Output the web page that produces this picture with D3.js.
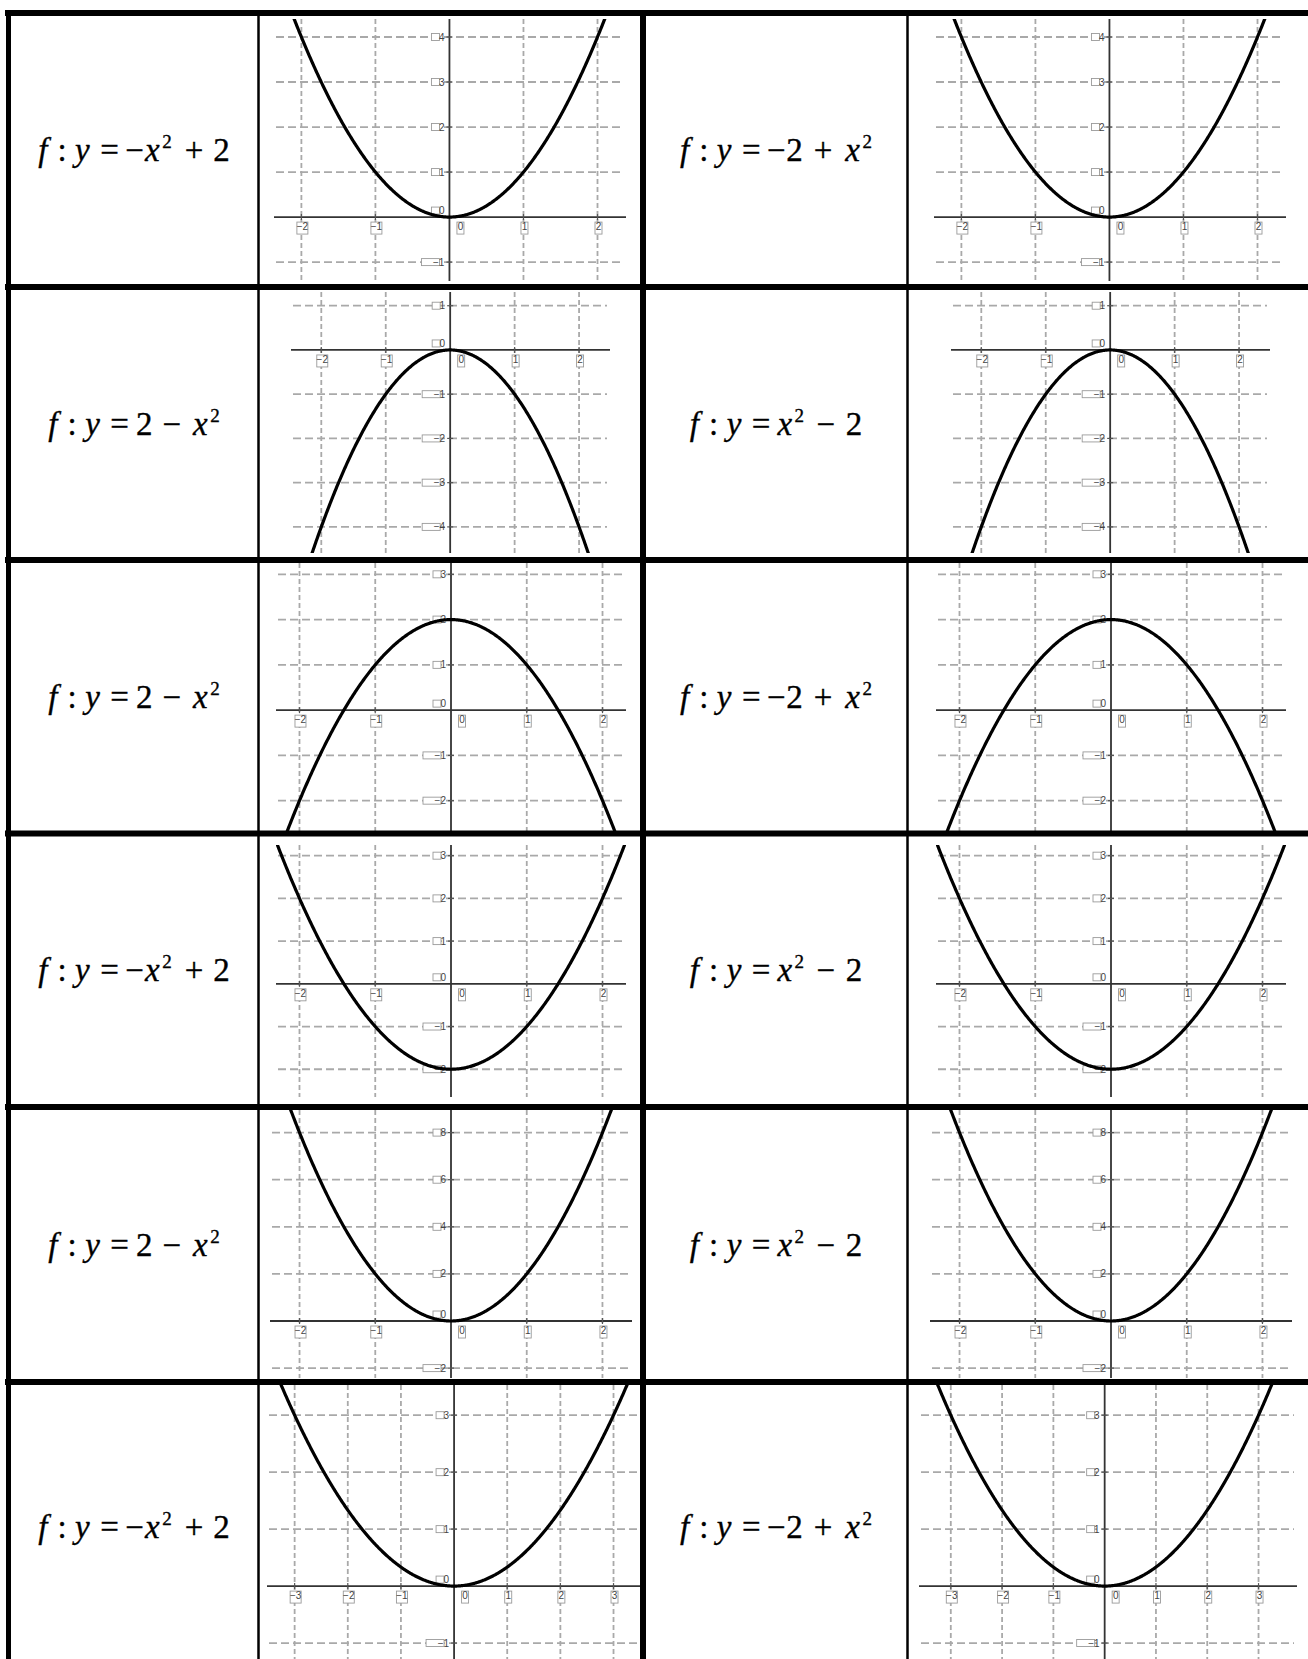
<!DOCTYPE html>
<html>
<head>
<meta charset="utf-8">
<script src="https://cdn.jsdelivr.net/npm/d3@7"></script>
<style>
  body { margin: 0; background: #fff; }
  svg { display: block; }
</style>
</head>
<body>
<div id="chart"></div>
<script>
// page size
const svgWidth = 1308;
const svgHeight = 1659;

// formula kinds used in the text columns (left column, right column)
const formulasLeft = ["A", "C", "C", "A", "C", "A"];
const formulasRight = ["B", "D", "B", "D", "D", "B"];

// tokens of each formula: [text, style] i = italic, r = roman, s = superscript
const formulaTokens = {
  A: [["f", "i"], [":", "r"], ["y", "i"], ["=", "r"], ["\u2212", "r"], ["x", "i"], ["2", "s"], ["+", "r"], ["2", "r"]],
  B: [["f", "i"], [":", "r"], ["y", "i"], ["=", "r"], ["\u2212", "r"], ["2", "r"], ["+", "r"], ["x", "i"], ["2", "s"]],
  C: [["f", "i"], [":", "r"], ["y", "i"], ["=", "r"], ["2", "r"], ["\u2212", "r"], ["x", "i"], ["2", "s"]],
  D: [["f", "i"], [":", "r"], ["y", "i"], ["=", "r"], ["x", "i"], ["2", "s"], ["\u2212", "r"], ["2", "r"]]
};

// curve drawn in each row: y = a*x^2 + c (same curve in both graph columns)
const curveA = [1, -1, -1, 1, 2, 1 / 3];
const curveC = [0, 0, 2, -2, 0, 0];

// grid / tick values per row
const xTicks = [
  [-2, -1, 0, 1, 2], [-2, -1, 0, 1, 2], [-2, -1, 0, 1, 2],
  [-2, -1, 0, 1, 2], [-2, -1, 0, 1, 2], [-3, -2, -1, 0, 1, 2, 3]
];
const yTicks = [
  [-1, 0, 1, 2, 3, 4], [-4, -3, -2, -1, 0, 1], [-2, -1, 0, 1, 2, 3],
  [-2, -1, 0, 1, 2, 3], [-2, 0, 2, 4, 6, 8], [-1, 0, 1, 2, 3]
];

// visible window of each graph (value domain), left and right graph columns
const xWindowL = [[-2.37, 2.385], [-2.47, 2.48], [-2.31, 2.31], [-2.31, 2.31], [-2.39, 2.39], [-3.52, 3.63]];
const xWindowR = [[-2.37, 2.385], [-2.47, 2.48], [-2.31, 2.31], [-2.31, 2.31], [-2.39, 2.39], [-3.62, 3.75]];
const yWindow = [[-1.42, 4.4], [-4.59, 1.31], [-2.67, 3.25], [-2.65, 3.25], [-2.42, 8.96], [-1.28, 3.53]];

// ---- layout (pixels) ----
const rowTop = [16, 290, 563, 836, 1110, 1385];
const rowBottom = [284, 557, 831, 1104, 1379, 1668];
const hBorders = [13, 287, 560, 833.5, 1107, 1382];
// graph box of each graph column
const graphPxL = [[274, 626], [291, 610], [276, 626], [276, 626], [270, 632], [267, 647]];
const graphPxR = [[934, 1286], [951, 1270], [936, 1286], [936, 1286], [930, 1292], [919, 1297]];
const graphPy = [[19, 281], [292, 553], [563, 831], [845, 1097], [1110, 1378], [1385, 1659]];
const textCenter = [134, 776];
// spacing between consecutive formula tokens (px)
const tokenGap = {
  A: [10, 8.5, 10.5, 6.5, 1, 2.5, 13, 10],
  B: [10, 8.5, 10.5, 6.5, 0.5, 11, 13, 2.5],
  C: [10, 8.5, 10.5, 7, 10, 12, 2.5],
  D: [10, 8.5, 10.5, 7, 2.5, 12.5, 10.5]
};

var svg = d3.select("#chart")
  .append("svg")
  .attr("width", svgWidth)
  .attr("height", svgHeight);

var defs = svg.append("defs");

// cell clip areas for the two graph columns
const graphCellX = [[260, 640], [909, 1308]];

function fmt(v) {
  return v < 0 ? "\u2212" + Math.abs(v) : String(v);
}

function drawGraph(row, col) {
  var px = col === 0 ? graphPxL[row] : graphPxR[row];
  var xw = col === 0 ? xWindowL[row] : xWindowR[row];
  var py = graphPy[row];

  var x = d3.scaleLinear().domain(xw).range(px);
  var y = d3.scaleLinear().domain(yWindow[row]).range([py[1], py[0]]);

  var clipId = `clip-${row}-${col}`;
  defs.append("clipPath").attr("id", clipId)
    .append("rect")
    .attr("x", graphCellX[col][0])
    .attr("y", rowTop[row])
    .attr("width", graphCellX[col][1] - graphCellX[col][0])
    .attr("height", rowBottom[row] - rowTop[row]);

  var g = svg.append("g").attr("clip-path", `url(#${clipId})`);

  // dashed grid
  g.selectAll(".vgrid")
    .data(xTicks[row].filter(d => d !== 0))
    .enter().append("line")
    .attr("x1", d => x(d)).attr("x2", d => x(d))
    .attr("y1", py[0]).attr("y2", py[1])
    .attr("stroke", "#a9a9a9")
    .attr("stroke-width", 1.8)
    .attr("stroke-dasharray", "5,3");

  g.selectAll(".hgrid")
    .data(yTicks[row].filter(d => d !== 0))
    .enter().append("line")
    .attr("x1", px[0] + 2).attr("x2", px[1] - 3)
    .attr("y1", d => y(d)).attr("y2", d => y(d))
    .attr("stroke", "#a9a9a9")
    .attr("stroke-width", 1.8)
    .attr("stroke-dasharray", "8,4");

  // axes
  g.append("line")
    .attr("x1", px[0]).attr("x2", px[1])
    .attr("y1", y(0)).attr("y2", y(0))
    .attr("stroke", "#333").attr("stroke-width", 1.8);
  g.append("line")
    .attr("x1", x(0)).attr("x2", x(0))
    .attr("y1", py[0]).attr("y2", py[1])
    .attr("stroke", "#333").attr("stroke-width", 1.8);

  // tick marks
  g.selectAll(".xtick")
    .data(xTicks[row].filter(d => d !== 0))
    .enter().append("line")
    .attr("x1", d => x(d)).attr("x2", d => x(d))
    .attr("y1", y(0) - 3).attr("y2", y(0) + 3)
    .attr("stroke", "#555").attr("stroke-width", 1.2);
  g.selectAll(".ytick")
    .data(yTicks[row].filter(d => d !== 0))
    .enter().append("line")
    .attr("x1", x(0) - 3).attr("x2", x(0) + 3)
    .attr("y1", d => y(d)).attr("y2", d => y(d))
    .attr("stroke", "#555").attr("stroke-width", 1.2);

  // x labels (boxed, GeoGebra style)
  xTicks[row].forEach(function(v) {
    var cx = v === 0 ? x(0) + 11 : x(v) + 1;
    var bw = v < 0 ? 11 : 7;
    g.append("rect")
      .attr("x", cx - bw / 2).attr("y", y(0) + 5)
      .attr("width", bw).attr("height", 12)
      .attr("fill", "#fff").attr("stroke", "#9a9a9a").attr("stroke-width", 0.9);
    g.append("text")
      .attr("x", cx).attr("y", y(0) + 13)
      .attr("text-anchor", "middle")
      .attr("font-family", "Liberation Sans, Arial, sans-serif")
      .attr("font-size", 10)
      .attr("fill", "#444")
      .text(fmt(v));
  });

  // y labels
  yTicks[row].forEach(function(v) {
    var ty = v === 0 ? y(0) - 3 : y(v) + 3.5;
    var right = x(0) - 5;
    var bw = v < 0 ? 18 : 8;
    g.append("rect")
      .attr("x", right - 5 - bw).attr("y", ty - 7)
      .attr("width", bw).attr("height", 7)
      .attr("fill", "#fff").attr("stroke", "#9a9a9a").attr("stroke-width", 0.9);
    g.append("text")
      .attr("x", right).attr("y", ty)
      .attr("text-anchor", "end")
      .attr("font-family", "Liberation Sans, Arial, sans-serif")
      .attr("font-size", 10)
      .attr("fill", "#444")
      .text(fmt(v));
  });

  // the parabola
  var vClip = `vclip-${row}-${col}`;
  defs.append("clipPath").attr("id", vClip)
    .append("rect")
    .attr("x", px[0]).attr("y", py[0])
    .attr("width", px[1] - px[0]).attr("height", py[1] - py[0]);

  var xs = d3.range(xw[0], xw[1] + 0.01, 0.01);
  var line = d3.line()
    .x(d => x(d))
    .y(d => y(curveA[row] * d * d + curveC[row]));
  g.append("g").attr("clip-path", `url(#${vClip})`)
    .append("path")
    .datum(xs)
    .attr("d", line)
    .attr("fill", "none")
    .attr("stroke", "#000")
    .attr("stroke-width", 3.2);
}

// formula: each token is its own text, placed one after the other
function drawFormula(row, col, kind) {
  var baseY = (rowTop[row] + rowBottom[row]) / 2 + 11;
  var g = svg.append("g");
  var cursor = 0;
  formulaTokens[kind].forEach(function(tok, i) {
    var sup = tok[1] === "s";
    if (i > 0) cursor += tokenGap[kind][i - 1];
    var t = g.append("text")
      .attr("x", cursor)
      .attr("y", sup ? -13 : 0)
      .attr("font-family", "Liberation Serif, 'Times New Roman', serif")
      .attr("font-size", sup ? 19 : 33)
      .attr("font-style", tok[1] === "i" ? "italic" : "normal")
      .attr("fill", "#000")
      .attr("stroke", "#000")
      .attr("stroke-width", 0.35)
      .text(tok[0]);
    cursor += t.node().getComputedTextLength();
  });
  var bb = g.node().getBBox();
  g.attr("transform", `translate(${textCenter[col] - (bb.x + bb.width / 2)}, ${baseY})`);
}

for (var r = 0; r < 6; r++) {
  drawGraph(r, 0);
  drawGraph(r, 1);
  drawFormula(r, 0, formulasLeft[r]);
  drawFormula(r, 1, formulasRight[r]);
}

// table borders
var borders = svg.append("g");
hBorders.forEach(function(yy) {
  borders.append("line")
    .attr("x1", 5).attr("x2", svgWidth)
    .attr("y1", yy).attr("y2", yy)
    .attr("stroke", "#000").attr("stroke-width", 6);
});
[[8.5, 5], [258.5, 2.5], [643, 6], [907.5, 2.5]].forEach(function(v) {
  borders.append("line")
    .attr("x1", v[0]).attr("x2", v[0])
    .attr("y1", 10).attr("y2", svgHeight)
    .attr("stroke", "#000").attr("stroke-width", v[1]);
});
</script>
</body>
</html>
